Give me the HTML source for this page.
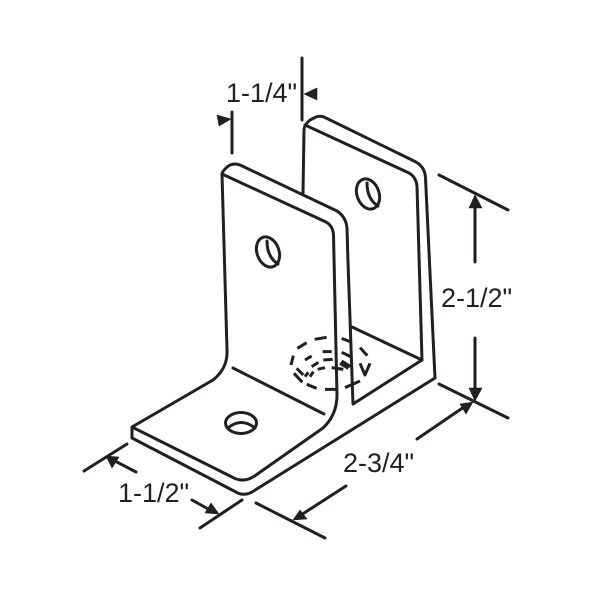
<!DOCTYPE html>
<html>
<head>
<meta charset="utf-8">
<style>
html,body{margin:0;padding:0;background:#fff;width:600px;height:600px;overflow:hidden}
svg{display:block}
text{font-family:"Liberation Sans",sans-serif;font-size:27px;fill:#231f20}
</style>
</head>
<body>
<svg width="600" height="600" viewBox="0 0 600 600" xmlns="http://www.w3.org/2000/svg">
<rect width="600" height="600" fill="#fff"/>
<g fill="none" stroke="#231f20" stroke-width="3" stroke-linecap="round" stroke-linejoin="round">
  <!-- back plate -->
  <path d="M303 193 L304 130 Q304 125 310 120 L316 117 Q321 115 326 118 L414 161 Q425 166 425.500 178 L435 378"/>
  <path d="M305 125 L409 173 Q416 177 417 186 L422 360"/>
  <path d="M352 327 L422 360 L353 404 L348 262 L347 228 Q346 217 337 211"/>
  <!-- front plate -->
  <path d="M222 174 Q222 172 226 168 Q232 162 240 165 L337 211"/>
  <path d="M222 174 L326 222 Q333 226 333.500 235 L337 395 Q337 415 323 428 L256 475 Q244 484 232 477 L132 427"/>
  <path d="M222 174 L227 350 Q228 368 213 380 L132 427 L132 438 L234 491 Q243 497 252 492 L435 378"/>
  <path d="M233 368 L324 414"/>
  <!-- holes -->
  <ellipse cx="241" cy="423" rx="15.500" ry="10.500"/>
  <path d="M228 428 Q241 417 255 428"/>
  <ellipse cx="368" cy="194" rx="11" ry="15.500" transform="rotate(-20 368 194)"/>
  <path d="M367 183 Q367 199 378 206"/>
  <ellipse cx="268" cy="252" rx="11" ry="15.500" transform="rotate(-20 268 252)"/>
  <path d="M267 241 Q267 257 278 264"/>
  <!-- dashed hole -->
  <g transform="translate(280 325) scale(0.3333)" stroke-width="9" stroke-linecap="butt">
    <path d="M104 43 L140 37 M52 70 L80 53 M33 120 L40 92 M42 145 L67 172 M80 178 L110 190 M135 193 L170 193 M185 40 L210 50 M240 68 L262 92 M240 115 L255 150 L270 115 M195 188 L240 168"/>
    <path d="M128 80 L155 80 M75 105 L95 93 M130 105 L158 103 M95 125 L115 112 M50 130 L70 150 M75 155 L85 142 M90 155 L100 140 M113 133 L135 128 M155 128 L190 133 M185 82 L212 95 M185 108 L212 125 M180 115 L205 130"/>
  </g>
  <!-- dimension lines -->
  <path d="M302 58 L302 120"/>
  <path d="M232 112 L232 153"/>
  <path d="M439 175 L508 210"/>
  <path d="M439 384 L508 418"/>
  <path d="M475 205 L475 262"/>
  <path d="M475 338 L475 392"/>
  <path d="M84 471 L127 444"/>
  <path d="M136 472 L115 461"/>
  <path d="M200 528 L242 500"/>
  <path d="M192 500 L210 510"/>
  <path d="M256 503 L325 538"/>
  <path d="M346 486 L301 515"/>
  <path d="M417 439 L464 407"/>
</g>
<g fill="#231f20" stroke="#231f20" stroke-width="0.6" stroke-linejoin="round">
  <path d="M304 94 L317 88 L317 100 Z"/>
  <path d="M231 119 L217 115 L219 126 Z"/>
  <path d="M475 195 L469 208 L482 208 Z"/>
  <path d="M475 401 L469 388 L482 388 Z"/>
  <path d="M106 456 L119 457 L112 468 Z"/>
  <path d="M219 514 L205 513 L211 503 Z"/>
  <path d="M293 520 L300 510 L307 519 Z"/>
  <path d="M473 402 L460 404 L466 414 Z"/>
</g>
<text x="226" y="102">1-1/4"</text>
<text x="441" y="307">2-1/2"</text>
<text x="343" y="472">2-3/4"</text>
<text x="118" y="502">1-1/2"</text>
</svg>
</body>
</html>
